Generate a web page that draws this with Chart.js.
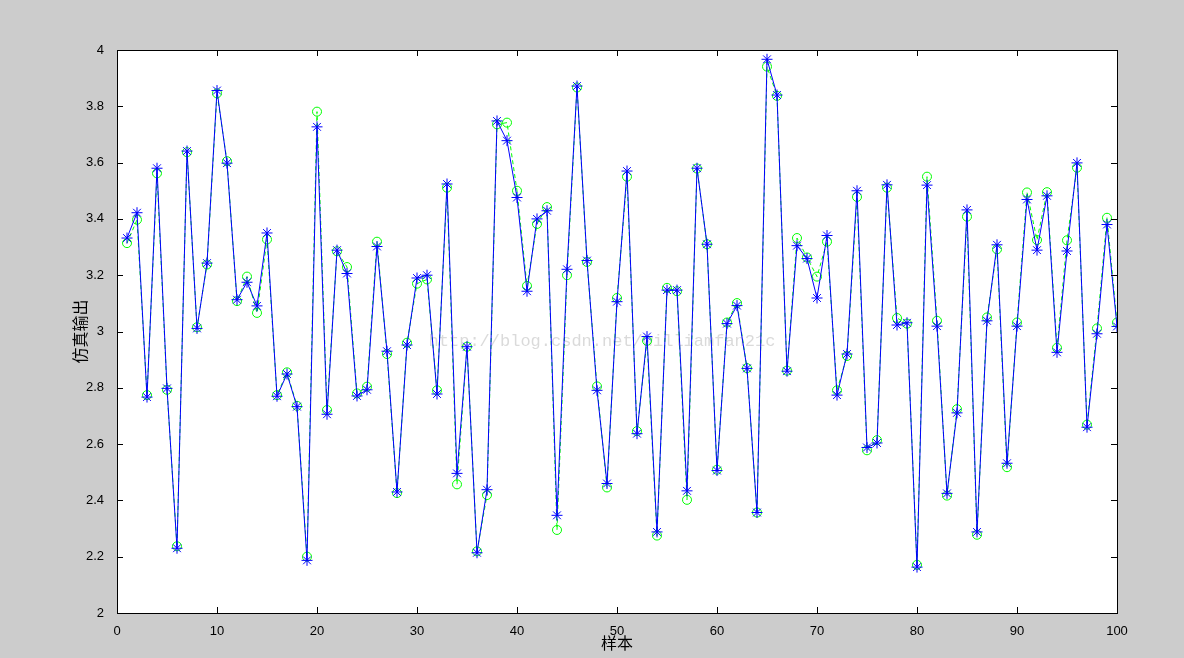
<!DOCTYPE html>
<html>
<head>
<meta charset="utf-8">
<script src="https://cdn.jsdelivr.net/npm/chart.js@4.4.1/dist/chart.umd.min.js"></script>
<style>
  html, body { margin: 0; padding: 0; background: #cccccc; overflow: hidden; }
  #wrap { width: 1184px; height: 658px; }
</style>
</head>
<body>
<div id="wrap"><canvas id="chart" width="1184" height="658"></canvas></div>
<script>
// ======================== ДАННЫЕ ========================
// прогноз сети (синие звёздочки)
const predicted = [
  3.332, 3.422, 2.767, 3.580, 2.798, 2.230, 3.641, 3.011, 3.243, 3.856,
  3.598, 3.113, 3.175, 3.091, 3.350, 2.770, 2.849, 2.733, 2.187, 3.727,
  2.706, 3.289, 3.206, 2.771, 2.793, 3.302, 2.930, 2.430, 2.952, 3.190,
  3.200, 2.778, 3.524, 2.496, 2.946, 2.214, 2.438, 3.748, 3.678, 3.476,
  3.143, 3.400, 3.429, 2.347, 3.221, 3.872, 3.252, 2.791, 2.460, 3.106,
  3.570, 2.637, 2.982, 2.288, 3.147, 3.147, 2.434, 3.580, 3.310, 2.506,
  3.028, 3.092, 2.869, 2.357, 3.967, 3.840, 2.859, 3.305, 3.259, 3.119,
  3.341, 2.774, 2.920, 3.500, 2.588, 2.604, 3.521, 3.023, 3.031, 2.163,
  3.520, 3.019, 2.425, 2.711, 3.432, 2.288, 3.038, 3.308, 2.532, 3.019,
  3.469, 3.289, 3.482, 2.926, 3.286, 3.599, 2.660, 2.992, 3.380, 3.018
];
// фактические значения (зелёные кружки)
const actual = [
  3.314, 3.397, 2.774, 3.562, 2.793, 2.237, 3.637, 3.015, 3.238, 3.846,
  3.605, 3.108, 3.195, 3.066, 3.327, 2.774, 2.855, 2.736, 2.200, 3.781,
  2.721, 3.285, 3.229, 2.780, 2.804, 3.319, 2.920, 2.426, 2.960, 3.170,
  3.185, 2.791, 3.511, 2.457, 2.946, 2.219, 2.419, 3.736, 3.742, 3.500,
  3.162, 3.382, 3.442, 2.295, 3.200, 3.867, 3.247, 2.805, 2.446, 3.119,
  3.550, 2.646, 2.967, 2.275, 3.155, 3.143, 2.402, 3.579, 3.310, 2.509,
  3.032, 3.101, 2.870, 2.357, 3.941, 3.837, 2.861, 3.332, 3.263, 3.195,
  3.319, 2.791, 2.913, 3.478, 2.578, 2.614, 3.511, 3.048, 3.028, 2.171,
  3.550, 3.038, 2.417, 2.724, 3.408, 2.278, 3.050, 3.292, 2.518, 3.032,
  3.494, 3.325, 3.495, 2.942, 3.324, 3.582, 2.669, 3.011, 3.404, 3.032
];
const xTicks = [0, 10, 20, 30, 40, 50, 60, 70, 80, 90, 100];
const yTicks = [2, 2.2, 2.4, 2.6, 2.8, 3, 3.2, 3.4, 3.6, 3.8, 4];
const xTitle = '样本';
const yTitle = '仿真输出';
const watermark = 'http://blog.csdn.net/williamfan21c';

const toPoints = arr => arr.map((v, i) => ({ x: i + 1, y: v }));

// ======================== ОФОРМЛЕНИЕ ОСЕЙ (в стиле MATLAB) ========================
const matlabAxes = {
  id: 'matlabAxes',
  beforeDraw(chart) {
    const { ctx, chartArea: a } = chart;
    ctx.save();
    ctx.fillStyle = '#ffffff';
    ctx.fillRect(a.left, a.top, a.right - a.left, a.bottom - a.top);
    ctx.restore();
  },
  beforeDatasetsDraw(chart) {
    const { ctx, chartArea: a } = chart;
    ctx.save();
    ctx.font = '17px "Liberation Mono"';
    ctx.fillStyle = 'rgba(150,150,150,0.35)';
    ctx.textAlign = 'center';
    ctx.textBaseline = 'middle';
    ctx.fillText(watermark, (a.left + a.right) / 2 - 15, 341);
    ctx.restore();
  },
  afterDraw(chart) {
    const { ctx, chartArea: a, scales } = chart;
    const tl = 6;
    ctx.save();
    ctx.strokeStyle = '#000000';
    ctx.lineWidth = 1;
    ctx.beginPath();
    xTicks.forEach(v => {
      const px = Math.round(scales.x.getPixelForValue(v)) + 0.5;
      ctx.moveTo(px, a.bottom); ctx.lineTo(px, a.bottom - tl);
      ctx.moveTo(px, a.top); ctx.lineTo(px, a.top + tl);
    });
    yTicks.forEach(v => {
      const py = Math.round(scales.y.getPixelForValue(v)) + 0.5;
      ctx.moveTo(a.left, py); ctx.lineTo(a.left + tl, py);
      ctx.moveTo(a.right, py); ctx.lineTo(a.right - tl, py);
    });
    ctx.stroke();
    ctx.strokeRect(Math.round(a.left) + 0.5, Math.round(a.top) + 0.5,
      Math.round(a.right - a.left), Math.round(a.bottom - a.top));
    ctx.restore();
  }
};

// ======================== ГРАФИК ========================
new Chart(document.getElementById('chart'), {
  type: 'line',
  data: {
    datasets: [
      {
        label: 'predicted',
        data: toPoints(predicted),
        borderColor: '#0000ff',
        borderWidth: 1,
        pointStyle: 'star',
        pointRadius: 5.5,
        pointBorderColor: '#0000ff',
        pointBorderWidth: 1,
        tension: 0
      },
      {
        label: 'actual',
        data: toPoints(actual),
        borderColor: '#00ff00',
        borderWidth: 1,
        borderDash: [4, 3],
        pointStyle: 'circle',
        pointRadius: 4.5,
        pointBackgroundColor: 'rgba(0,0,0,0)',
        pointBorderColor: '#00ff00',
        pointBorderWidth: 1,
        tension: 0
      }
    ]
  },
  options: {
    responsive: false,
    animation: false,
    layout: { padding: { left: 0, top: 50, right: 67, bottom: 0 } },
    plugins: { legend: { display: false }, tooltip: { enabled: false } },
    scales: {
      x: {
        type: 'linear',
        min: 0, max: 100,
        afterBuildTicks: s => { s.ticks = xTicks.map(v => ({ value: v })); },
        afterFit: s => { s.height = 45; },
        grid: { display: false },
        border: { display: false },
        ticks: { color: '#000', padding: 3, font: { family: 'Liberation Sans', size: 13 } },
        title: {
          display: true, text: xTitle, color: '#000',
          font: { family: 'Noto Sans CJK SC', size: 16 },
          padding: { top: 0, bottom: 5 }
        }
      },
      y: {
        type: 'linear',
        min: 2, max: 4,
        afterBuildTicks: s => { s.ticks = yTicks.map(v => ({ value: v })); },
        afterFit: s => { s.width = 117; },
        grid: { display: false },
        border: { display: false },
        ticks: {
          color: '#000', padding: 5,
          font: { family: 'Liberation Sans', size: 13 },
          callback: v => String(parseFloat(v.toFixed(1)))
        },
        title: {
          display: true, text: yTitle, color: '#000',
          font: { family: 'Noto Sans CJK SC', size: 16 },
          padding: { top: 70, bottom: 0 }
        }
      }
    }
  },
  plugins: [matlabAxes]
});
</script>
</body>
</html>
